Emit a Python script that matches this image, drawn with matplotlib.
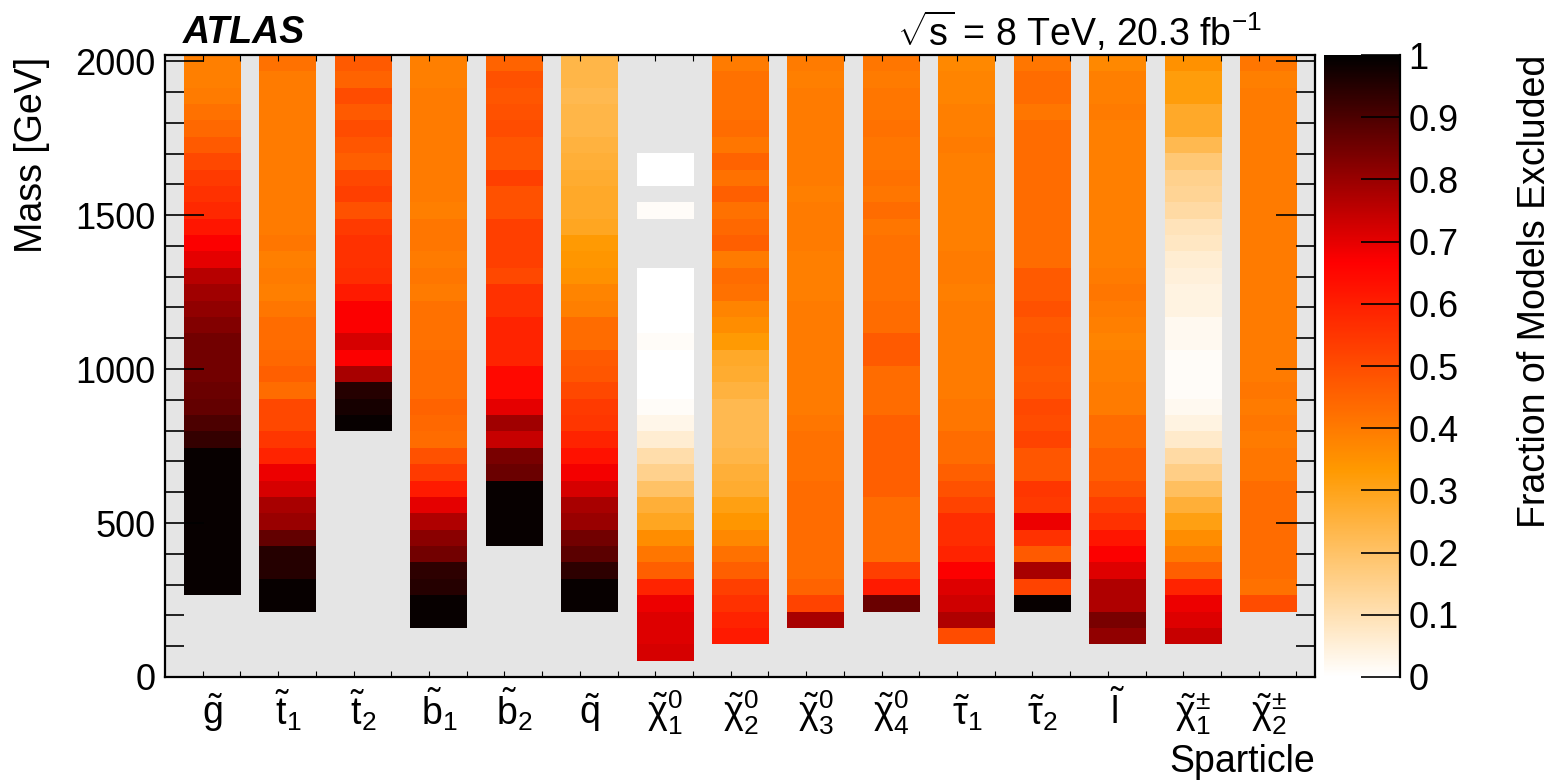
import numpy as np
import matplotlib
matplotlib.use("Agg")
import matplotlib.pyplot as plt
from matplotlib.colors import LinearSegmentedColormap
from matplotlib.ticker import MultipleLocator, FixedLocator
from matplotlib.lines import Line2D

nan = np.nan

plt.rcParams['font.family'] = ['Liberation Sans', 'DejaVu Sans']
plt.rcParams['mathtext.fontset'] = 'custom'
plt.rcParams['mathtext.rm'] = 'Liberation Sans'
plt.rcParams['mathtext.it'] = 'Liberation Sans'
plt.rcParams['mathtext.bf'] = 'Liberation Sans:bold'
plt.rcParams['mathtext.sf'] = 'Liberation Sans'

# ---------------- data ----------------
mass_max = 2020.0      # GeV, upper end of the mass histogram
n_mass_bins = 38       # number of mass bins

sparticle_labels = [r'$\tilde{\mathrm{g}}$', r'$\tilde{\mathrm{t}}_1$', r'$\tilde{\mathrm{t}}_2$',
                    r'$\tilde{\mathrm{b}}_1$', r'$\tilde{\mathrm{b}}_2$', r'$\tilde{\mathrm{q}}$',
                    r'$\tilde{\chi}_1^0$', r'$\tilde{\chi}_2^0$', r'$\tilde{\chi}_3^0$', r'$\tilde{\chi}_4^0$',
                    r'$\tilde{\tau}_1$', r'$\tilde{\tau}_2$', r'$\tilde{\mathrm{l}}$',
                    r'$\tilde{\chi}_1^{\pm}$', r'$\tilde{\chi}_2^{\pm}$']

# fraction of models excluded per mass bin, from lowest bin (0 GeV) upwards
gluino = [nan, nan, nan, nan, nan, 0.99, 0.99, 0.99, 0.99, 0.99, 0.99, 0.99, 0.99, 0.99,
          0.93, 0.90, 0.87, 0.86, 0.85, 0.85, 0.85, 0.83, 0.81, 0.79, 0.76, 0.70, 0.67, 0.62,
          0.58, 0.56, 0.54, 0.51, 0.47, 0.44, 0.42, 0.40, 0.39, 0.39]
stop1 = [nan, nan, nan, nan, 0.99, 0.99, 0.95, 0.95, 0.87, 0.80, 0.78, 0.72, 0.69, 0.59,
         0.55, 0.51, 0.51, 0.43, 0.46, 0.44, 0.43, 0.43, 0.41, 0.39, 0.40, 0.39, 0.41, 0.40,
         0.40, 0.40, 0.40, 0.40, 0.40, 0.40, 0.40, 0.40, 0.40, 0.42]
stop2 = [nan, nan, nan, nan, nan, nan, nan, nan, nan, nan, nan, nan, nan, nan,
         nan, 0.99, 0.97, 0.95, 0.78, 0.67, 0.72, 0.67, 0.67, 0.61, 0.57, 0.56, 0.56, 0.54,
         0.49, 0.53, 0.51, 0.46, 0.48, 0.50, 0.47, 0.50, 0.45, 0.47]
sbottom1 = [nan, nan, nan, 0.99, 0.99, 0.95, 0.94, 0.85, 0.82, 0.77, 0.70, 0.61, 0.54, 0.49,
            0.43, 0.44, 0.45, 0.43, 0.43, 0.43, 0.42, 0.42, 0.42, 0.40, 0.41, 0.40, 0.41, 0.41,
            0.39, 0.40, 0.40, 0.40, 0.40, 0.40, 0.40, 0.40, 0.39, 0.39]
sbottom2 = [nan, nan, nan, nan, nan, nan, nan, nan, 0.99, 0.99, 0.99, 0.99, 0.86, 0.84,
            0.74, 0.79, 0.70, 0.65, 0.65, 0.59, 0.59, 0.59, 0.56, 0.56, 0.51, 0.53, 0.53, 0.53,
            0.49, 0.49, 0.53, 0.48, 0.48, 0.50, 0.49, 0.48, 0.49, 0.45]
squark = [nan, nan, nan, nan, 0.99, 0.99, 0.94, 0.88, 0.85, 0.80, 0.78, 0.72, 0.68, 0.63,
          0.59, 0.55, 0.54, 0.51, 0.48, 0.47, 0.43, 0.43, 0.39, 0.38, 0.35, 0.34, 0.33, 0.29,
          0.28, 0.28, 0.27, 0.26, 0.25, 0.24, 0.24, 0.23, 0.24, 0.24]
neutralino1 = [nan, 0.72, 0.71, 0.71, 0.69, 0.59, 0.46, 0.41, 0.36, 0.29, 0.26, 0.20, 0.15, 0.11,
               0.06, 0.03, 0.01, 0.00, 0.00, 0.00, 0.01, 0.00, 0.00, 0.00, 0.00, nan, nan, nan,
               0.01, nan, 0.00, 0.00, nan, nan, nan, nan, nan, nan]
neutralino2 = [nan, nan, 0.61, 0.59, 0.56, 0.53, 0.46, 0.42, 0.37, 0.34, 0.31, 0.27, 0.26, 0.24,
               0.23, 0.23, 0.23, 0.25, 0.27, 0.28, 0.33, 0.36, 0.38, 0.42, 0.43, 0.40, 0.46, 0.44,
               0.42, 0.46, 0.42, 0.45, 0.41, 0.43, 0.42, 0.42, 0.42, 0.40]
neutralino3 = [nan, nan, nan, 0.78, 0.52, 0.45, 0.43, 0.43, 0.43, 0.43, 0.43, 0.43, 0.42, 0.42,
               0.42, 0.41, 0.40, 0.40, 0.40, 0.40, 0.40, 0.40, 0.40, 0.39, 0.39, 0.39, 0.40, 0.40,
               0.40, 0.39, 0.40, 0.40, 0.40, 0.40, 0.40, 0.40, 0.39, 0.40]
neutralino4 = [nan, nan, nan, nan, 0.86, 0.61, 0.53, 0.43, 0.43, 0.43, 0.43, 0.46, 0.46, 0.46,
               0.46, 0.46, 0.43, 0.43, 0.43, 0.47, 0.47, 0.43, 0.43, 0.42, 0.42, 0.42, 0.42, 0.41,
               0.43, 0.41, 0.42, 0.41, 0.41, 0.42, 0.41, 0.41, 0.40, 0.41]
stau1 = [nan, nan, 0.50, 0.77, 0.73, 0.71, 0.67, 0.59, 0.57, 0.57, 0.52, 0.49, 0.46, 0.43,
         0.43, 0.41, 0.41, 0.40, 0.40, 0.40, 0.40, 0.40, 0.40, 0.39, 0.40, 0.40, 0.39, 0.39,
         0.39, 0.39, 0.39, 0.39, 0.40, 0.39, 0.39, 0.38, 0.38, 0.37]
stau2 = [nan, nan, nan, nan, 0.99, 0.52, 0.78, 0.47, 0.56, 0.69, 0.54, 0.55, 0.48, 0.48,
         0.52, 0.50, 0.51, 0.48, 0.47, 0.48, 0.48, 0.47, 0.49, 0.47, 0.47, 0.43, 0.43, 0.43,
         0.43, 0.43, 0.43, 0.43, 0.43, 0.43, 0.41, 0.43, 0.43, 0.41]
slepton = [nan, nan, 0.81, 0.84, 0.77, 0.77, 0.71, 0.67, 0.62, 0.56, 0.53, 0.49, 0.46, 0.46,
           0.43, 0.43, 0.40, 0.40, 0.39, 0.39, 0.38, 0.39, 0.40, 0.41, 0.40, 0.39, 0.39, 0.39,
           0.39, 0.39, 0.39, 0.39, 0.39, 0.39, 0.40, 0.39, 0.39, 0.37]
chargino1 = [nan, nan, 0.74, 0.71, 0.69, 0.59, 0.46, 0.40, 0.36, 0.31, 0.26, 0.21, 0.16, 0.12,
             0.07, 0.04, 0.02, 0.01, 0.01, 0.01, 0.02, 0.02, 0.04, 0.04, 0.05, 0.06, 0.08, 0.09,
             0.12, 0.14, 0.15, 0.18, 0.23, 0.28, 0.28, 0.32, 0.32, 0.35]
chargino2 = [nan, nan, nan, nan, 0.50, 0.42, 0.43, 0.43, 0.43, 0.43, 0.43, 0.43, 0.41, 0.41,
             0.40, 0.41, 0.40, 0.41, 0.40, 0.40, 0.40, 0.40, 0.40, 0.40, 0.40, 0.40, 0.40, 0.40,
             0.40, 0.40, 0.40, 0.40, 0.40, 0.40, 0.40, 0.40, 0.39, 0.41]

columns = [gluino, stop1, stop2, sbottom1, sbottom2, squark,
           neutralino1, neutralino2, neutralino3, neutralino4,
           stau1, stau2, slepton, chargino1, chargino2]

colorbar_ticks = [0.0, 0.1, 0.2, 0.3, 0.4, 0.5, 0.6, 0.7, 0.8, 0.9, 1.0]
colorbar_ticklabels = ['0', '0.1', '0.2', '0.3', '0.4', '0.5', '0.6', '0.7', '0.8', '0.9', '1']

# ---------------- style ----------------
cmap = LinearSegmentedColormap.from_list(
    'excl', [(0.0, '#ffffff'), (1/3, '#ff9900'), (2/3, '#ff0000'), (1.0, '#000000')], N=512)

W, H, DPI = 1560, 783, 100
fig = plt.figure(figsize=(W / DPI, H / DPI), dpi=DPI)

ax_l, ax_r, ax_t, ax_b = 165, 1315, 55, 677
ax = fig.add_axes([ax_l / W, (H - ax_b) / H, (ax_r - ax_l) / W, (ax_b - ax_t) / H])
ax.set_facecolor('#e5e5e5')

bar_w = 0.756
mass_edges = np.linspace(0.0, mass_max, n_mass_bins + 1)
mesh = None
for i, vals in enumerate(columns):
    z = np.ma.masked_invalid(np.array(vals, dtype=float))[:, None]
    mesh = ax.pcolormesh([i, i + bar_w], mass_edges, z, cmap=cmap, vmin=0, vmax=1,
                         shading='flat', zorder=1)

x0 = -0.252
x1 = 14.994
ax.set_xlim(x0, x1)
ax.set_ylim(0, mass_max)

fs = 26
fs_title = 27
# y ticks
ax.yaxis.set_major_locator(FixedLocator([0, 500, 1000, 1500, 2000]))
ax.yaxis.set_minor_locator(MultipleLocator(100))
ax.tick_params(axis='y', which='major', direction='in', length=28, width=1.2,
               left=True, right=True, labelsize=fs, pad=7)
ax.tick_params(axis='y', which='minor', direction='in', length=14, width=1.2,
               left=True, right=True)
# x ticks
centers = [i + bar_w / 2 for i in range(len(columns))]
ax.set_xticks(centers)
ax.set_xticklabels(sparticle_labels)
ax.xaxis.set_minor_locator(FixedLocator([x0 + 0.5 * k for k in range(1, 31)]))
ax.tick_params(axis='x', which='major', length=0, labelsize=27, pad=34)
ax.tick_params(axis='x', which='minor', direction='in', length=4, width=0.8,
               top=True, bottom=True)
for t in ax.get_xticklabels():
    t.set_va('baseline')
for sp in ax.spines.values():
    sp.set_linewidth(1.6)
    sp.set_zorder(5)
ax.set_axisbelow(False)
for tl in ax.yaxis.get_ticklines() + ax.yaxis.get_minorticklines():
    tl.set_zorder(6)

# colorbar
cb_l, cb_r = 1324, 1400
cax = fig.add_axes([cb_l / W, (H - ax_b) / H, (cb_r - cb_l) / W, (ax_b - ax_t) / H])
cb = fig.colorbar(mesh, cax=cax)
cb.outline.set_visible(False)
cb.set_ticks(colorbar_ticks)
cb.set_ticklabels(colorbar_ticklabels)
cax.tick_params(direction='in', length=28, width=1.2, labelsize=fs, pad=6)
cax.minorticks_off()
cax.add_line(Line2D([1, 1], [0, 1], transform=cax.transAxes, color='black',
                    linewidth=1.6, clip_on=False))

# texts
fig.text(183 / W, 1 - 43 / H, 'ATLAS', fontsize=fs_title, fontweight='bold', fontstyle='italic',
         ha='left', va='baseline')
fig.text(897 / W, 1 - 46 / H, r'$\sqrt{s}$ = 8 TeV, 20.3 fb$^{-1}$', fontsize=fs_title,
         ha='left', va='baseline')
fig.text(32 / W, 1 - 57 / H, 'Mass [GeV]', fontsize=fs_title, rotation=90, ha='center', va='top')
fig.text(1535 / W, 1 - 55 / H, 'Fraction of Models Excluded', fontsize=fs_title, rotation=90,
         ha='center', va='top')
fig.text(ax_r / W, 1 - 772 / H, 'Sparticle', fontsize=fs_title, ha='right', va='baseline')

fig.savefig('out.png', dpi=DPI)
